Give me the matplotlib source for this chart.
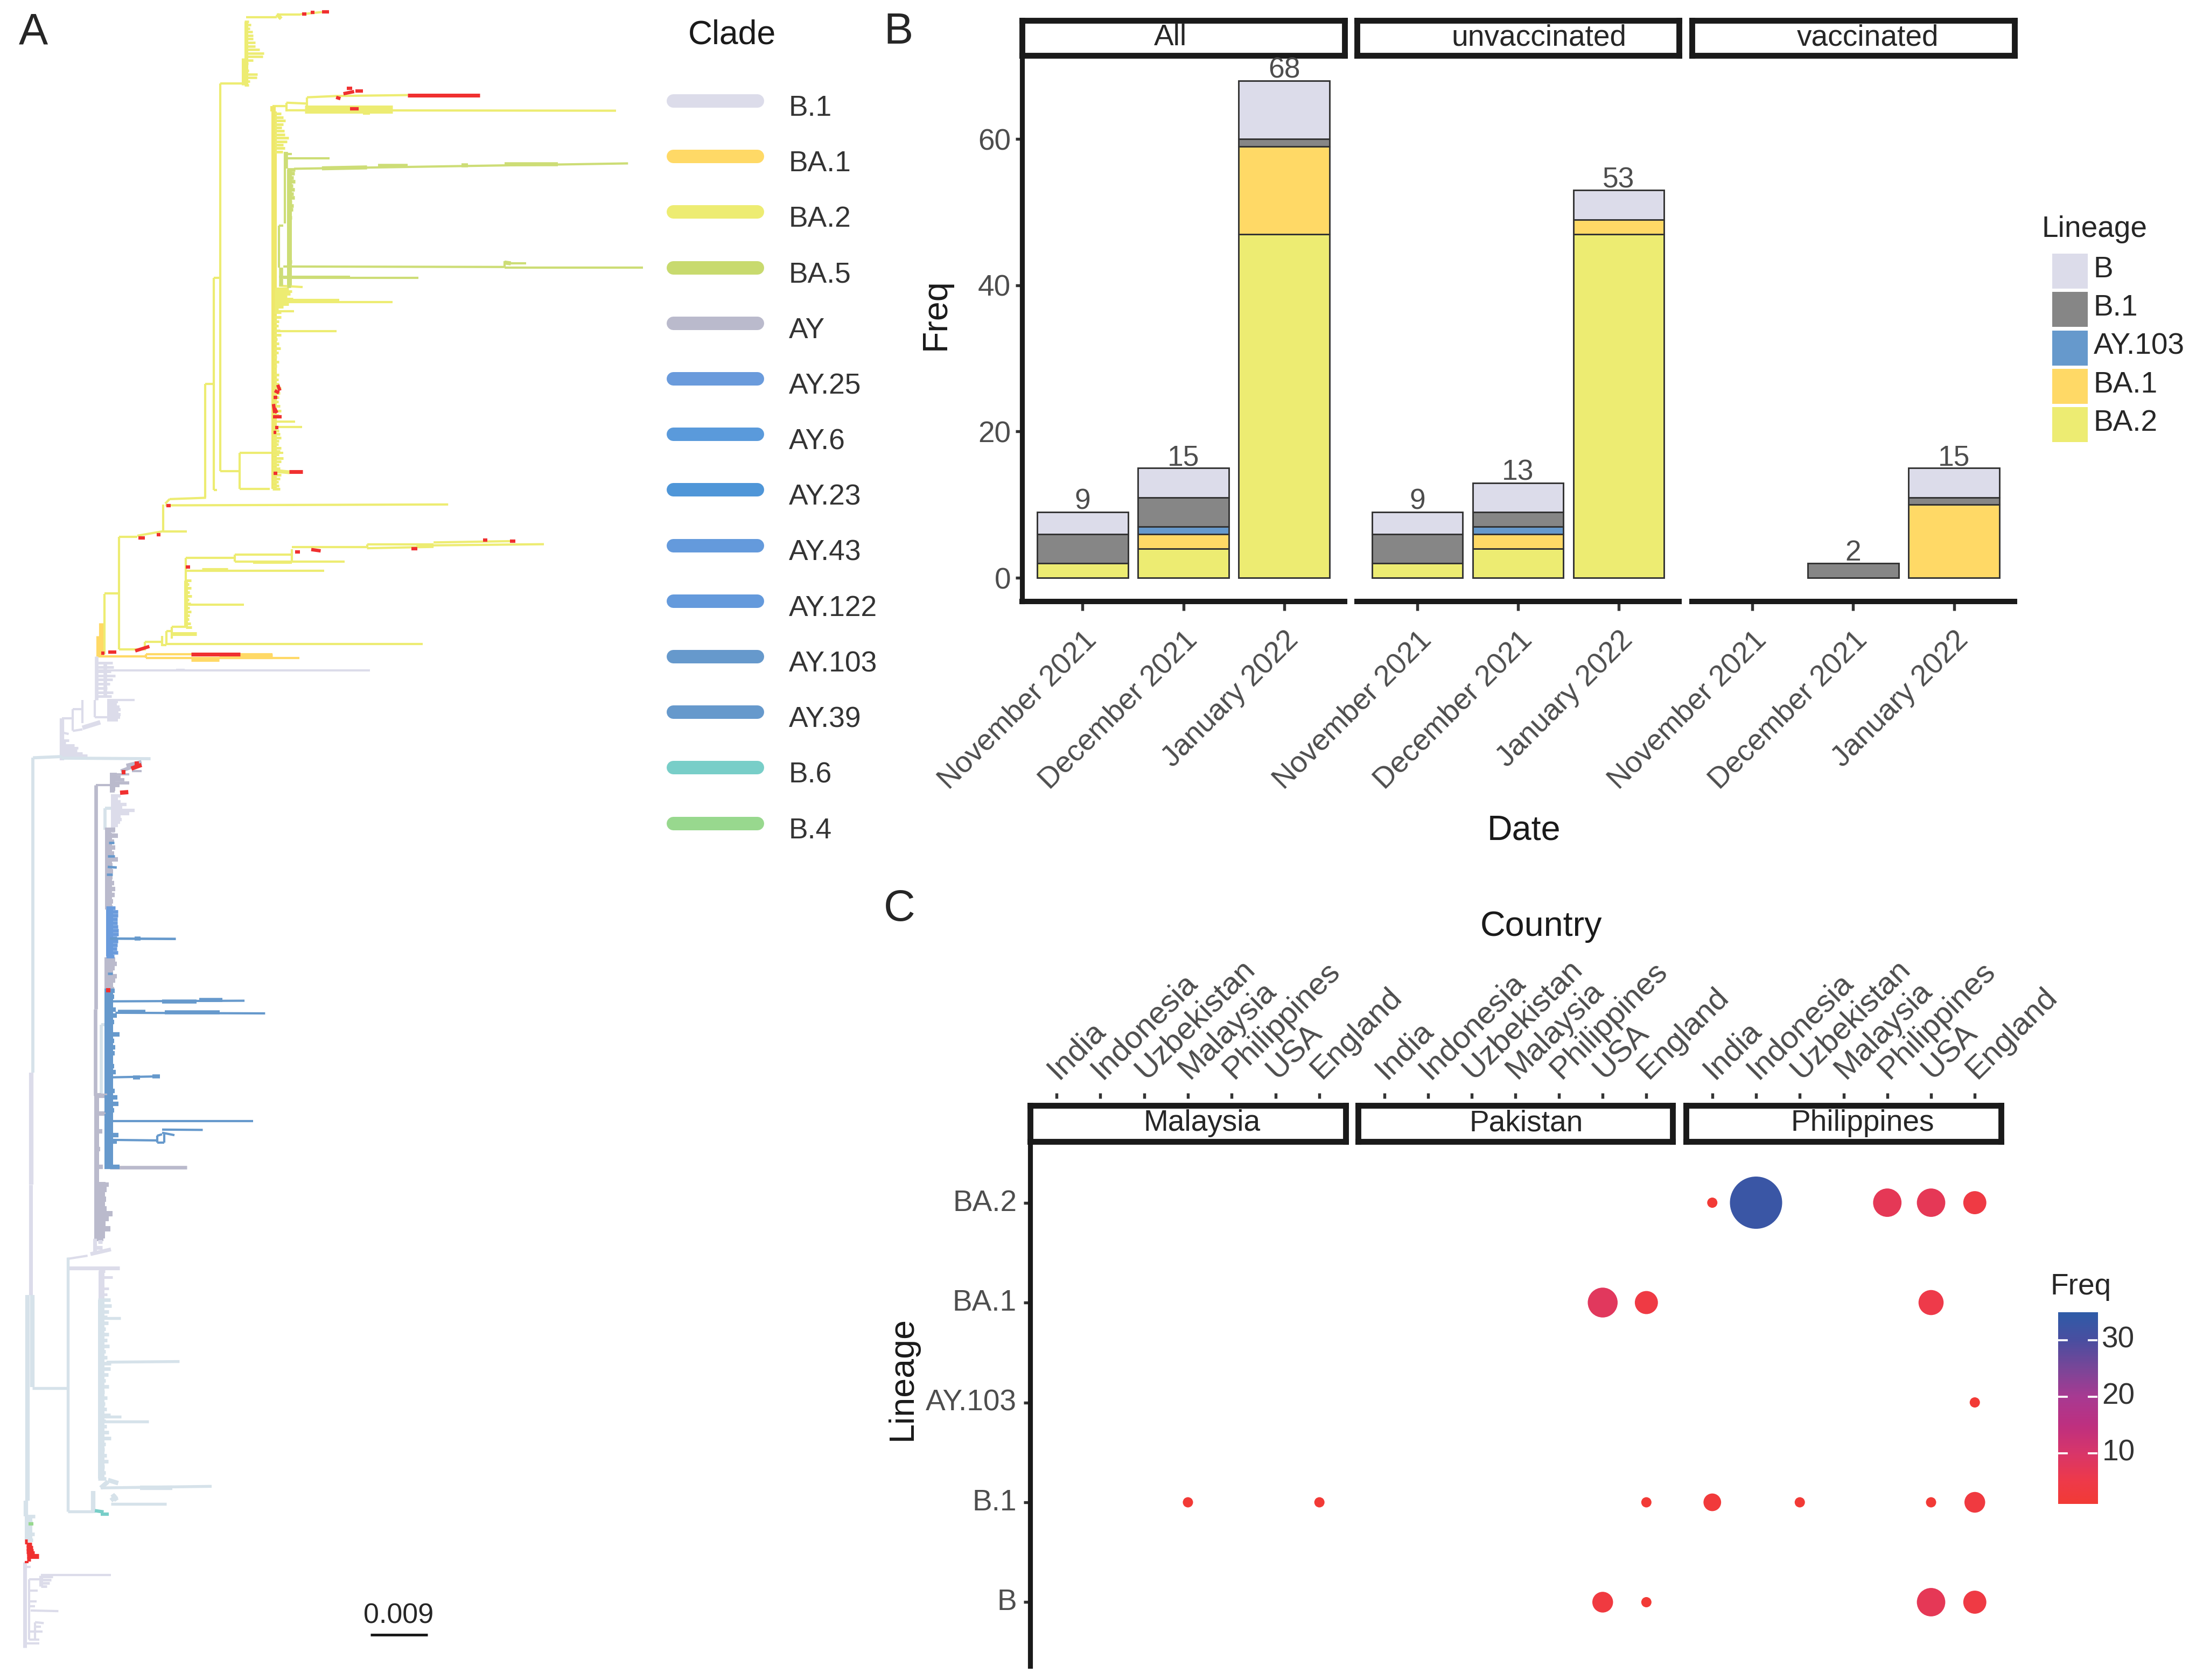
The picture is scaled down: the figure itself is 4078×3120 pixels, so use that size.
import matplotlib
matplotlib.use('Agg')
import matplotlib.pyplot as plt
from matplotlib.collections import LineCollection
from matplotlib.colors import LinearSegmentedColormap
from matplotlib.patches import Rectangle
from matplotlib.transforms import ScaledTranslation
import numpy as np

plt.rcParams['font.family'] = ['Liberation Sans', 'DejaVu Sans']

W, H = 4079, 3120
DPI = 300

# ---- panel B data
months = ['November 2021', 'December 2021', 'January 2022']
status = ['All', 'unvaccinated', 'vaccinated']
lineages_b = ['BA.2', 'BA.1', 'AY.103', 'B.1', 'B']
counts = {
    'All': {'BA.2': [2, 4, 47], 'BA.1': [0, 2, 12], 'AY.103': [0, 1, 0], 'B.1': [4, 4, 1], 'B': [3, 4, 8]},
    'unvaccinated': {'BA.2': [2, 4, 47], 'BA.1': [0, 2, 2], 'AY.103': [0, 1, 0], 'B.1': [4, 2, 0], 'B': [3, 4, 4]},
    'vaccinated': {'BA.2': [0, 0, 0], 'BA.1': [0, 0, 10], 'AY.103': [0, 0, 0], 'B.1': [0, 2, 1], 'B': [0, 0, 4]},
}
lineage_colors = {'B': '#DCDCEA', 'B.1': '#868686', 'AY.103': '#6699CC', 'BA.1': '#FFD966', 'BA.2': '#EDEC72'}

# ---- panel C data
countries = ['India', 'Indonesia', 'Uzbekistan', 'Malaysia', 'Philippines', 'USA', 'England']
regions = ['Malaysia', 'Pakistan', 'Philippines']
lineages_c = ['B', 'B.1', 'AY.103', 'BA.1', 'BA.2']
dot_region = ['Philippines'] * 5 + ['Pakistan'] * 2 + ['Philippines'] * 2 + ['Malaysia'] * 2 + ['Pakistan'] + \
             ['Philippines'] * 4 + ['Pakistan'] * 2 + ['Philippines'] * 2
dot_lineage = ['BA.2'] * 5 + ['BA.1'] * 3 + ['AY.103'] + ['B.1'] * 7 + ['B'] * 4
dot_country = ['India', 'Indonesia', 'Philippines', 'USA', 'England',
               'USA', 'England', 'USA',
               'England',
               'Malaysia', 'England', 'England', 'India', 'Uzbekistan', 'USA', 'England',
               'USA', 'England', 'USA', 'England']
dot_freq = [1, 33, 7, 7, 4,
            8, 4, 5,
            1,
            1, 1, 1, 2, 1, 1, 3,
            3, 1, 7, 4]
freq_ticks = [10, 20, 30]

# ---- panel A legend
clades = ['B.1', 'BA.1', 'BA.2', 'BA.5', 'AY', 'AY.25', 'AY.6', 'AY.23', 'AY.43', 'AY.122', 'AY.103', 'AY.39', 'B.6', 'B.4']
clade_colors = ['#DCDCEA', '#FFD966', '#EDEC72', '#C8DA6E', '#BABACC', '#6A9BDC', '#5A9ADB', '#4F96D8',
                '#649ADC', '#649ADC', '#6699CC', '#6699CC', '#78CEC8', '#98D88E']
LIGHT = '#D6E2EA'
RED = '#F03030'

# ---- tree, branches, one list per clade and part of the tree
ba1_top = [(228, 1470, 340, 1470), (340, 1466, 635, 1466), (340, 1474, 697, 1474), (340, 1466, 340, 1474)]
ba1_thick = [(445, 1476, 510, 1476), (510, 1470, 635, 1470), (236, 1395, 236, 1470), (229, 1425, 229, 1470)]
ba2_top = [(243, 1330, 243, 1465), (243, 1329, 277, 1329), (277, 1202, 277, 1455), (277, 1202, 320, 1202),
           (277, 1455, 340, 1455), (337, 1438, 337, 1450), (337, 1438, 378, 1438), (378, 1425, 378, 1447),
           (378, 1445, 388, 1445), (388, 1414, 388, 1445), (388, 1442, 985, 1442), (400, 1404, 400, 1430),
           (400, 1404, 433, 1404), (388, 1414, 400, 1414), (433, 1250, 433, 1405),
           (433, 1250, 547, 1250), (433, 1278, 755, 1278), (433, 1354, 568, 1354),
           (547, 1242, 547, 1258), (547, 1242, 680, 1242), (547, 1258, 680, 1258), (590, 1261, 680, 1261),
           (680, 1230, 680, 1260), (680, 1258, 803, 1258), (680, 1225, 855, 1225), (855, 1220, 855, 1228),
           (855, 1220, 1010, 1220), (855, 1228, 1010, 1225), (970, 1222, 1267, 1219), (1010, 1215, 1200, 1212),
           (320, 1200, 380, 1190), (380, 1130, 380, 1190), (380, 1190, 435, 1190), (385, 1132, 1044, 1130),
           (385, 1128, 395, 1118), (395, 1118, 480, 1115), (478, 860, 478, 1115), (478, 860, 498, 860),
           (498, 622, 498, 1098), (498, 622, 513, 622), (498, 1098, 505, 1098), (513, 187, 513, 1055),
           (513, 187, 573, 187), (513, 1055, 558, 1055), (558, 1014, 558, 1095), (558, 1014, 632, 1014),
           (558, 1095, 628, 1095), (573, 38, 645, 38), (645, 32, 700, 32), (700, 32, 750, 27),
           (635, 238, 667, 238), (667, 230, 667, 250), (667, 230, 715, 232), (715, 218, 715, 240),
           (715, 218, 785, 215), (785, 215, 950, 213), (667, 247, 1435, 248),
           (845, 254, 862, 254), (650, 640, 705, 643), (640, 677, 915, 677), (650, 672, 790, 672), (640, 697, 685, 697),
           (640, 742, 784, 742), (640, 945, 687, 945), (640, 957, 704, 957), (635, 1014, 660, 1014)]
ba2_thick = [(400, 1420, 458, 1420), (470, 1276, 530, 1276), (710, 240, 915, 240), (710, 250, 915, 250), (642, 1055, 675, 1058),
             (645, 32, 655, 42), (573, 48, 573, 190), (567, 130, 567, 190), (433, 1300, 433, 1405)]
ba2_stem = [(639, 250, 639, 1095), (636, 238, 636, 250)]
ba2_comb_tips = [640, 672, 680, 676, 668, 682, 680, 672, 660, 648, 655]
ba2_top_tips = [580, 585, 582, 588, 590, 590, 594, 595, 605, 615, 612, 590, 578, 576, 580, 600, 598, 582, 580]
ba2_mid_tips = [655, 660, 665, 660, 656, 662, 664, 672, 668, 660, 664, 658]
ba2_low_tips = [650, 655, 650, 648, 652, 655, 646, 650, 654, 648, 645, 650, 645, 642, 650, 648, 650, 655, 652, 650, 648, 652, 655, 650]
ba2_base_tips = [650, 652, 655, 650, 648, 655, 652, 650, 660, 655, 650, 652, 650, 655, 652, 648, 650, 652]
ba2_sub_tips = [445, 440, 445, 442, 446, 440, 444, 441, 445, 442, 440, 444, 446]
ba5_top = [(663, 340, 663, 500), (663, 345, 680, 345), (663, 355, 768, 355), (685, 378, 1463, 366),
           (650, 505, 650, 600), (650, 505, 660, 505), (660, 597, 1175, 598), (1175, 590, 1225, 590),
           (1175, 600, 1498, 600), (1175, 585, 1175, 600), (660, 622, 975, 622), (650, 620, 815, 620)]
ba5_thick = [(750, 377, 855, 375), (880, 372, 950, 372), (1075, 370, 1090, 370), (1175, 368, 1300, 368), (666, 340, 666, 378),
             (1175, 588, 1190, 590), (655, 600, 655, 640)]
ba5_tips = [688, 686, 684, 688, 682, 686, 684, 686, 680, 684, 682, 678, 680, 676, 678, 676, 674, 676, 672, 678, 676, 672, 675, 680, 670, 676, 672, 670, 674, 678]
red_top = [(704, 31, 714, 31), (724, 28, 732, 28), (750, 26, 767, 26), (808, 198, 820, 198),
           (800, 210, 825, 205), (783, 218, 793, 221), (828, 204, 845, 204), (815, 244, 835, 244),
           (647, 862, 652, 875), (640, 875, 650, 880), (637, 890, 646, 890), (637, 905, 640, 925), (640, 915, 645, 925),
           (636, 933, 656, 933), (641, 958, 648, 958), (637, 968, 644, 968), (637, 1060, 646, 1060),
           (388, 1132, 398, 1132), (322, 1205, 337, 1205), (365, 1198, 374, 1198), (687, 1236, 699, 1236),
           (725, 1231, 747, 1234), (958, 1229, 972, 1229), (1125, 1210, 1135, 1210), (1188, 1212, 1201, 1212),
           (433, 1270, 443, 1270), (252, 1461, 271, 1461), (236, 1463, 243, 1463),
           (315, 1458, 348, 1448)]
red_long = [(950, 214, 1118, 214), (673, 1056, 705, 1056), (445, 1466, 560, 1466)]
b1_top = [(225, 1502, 862, 1502), (410, 1500, 430, 1500)]
b1_top_thick = [(225, 1470, 225, 1568), (245, 1485, 245, 1560)]
b1_top_tips = [262, 265, 258, 268, 262, 256, 250, 264, 260]

b1_mid = [(300, 0, 300, 75), (345, 0, 345, 55), (345, 55, 390, 55), (265, 30, 300, 30), (265, 30, 265, 100),
          (265, 100, 300, 95), (225, 60, 265, 60), (225, 105, 250, 110), (390, 0, 490, 0)]
b1_mid_thick = [(300, 90, 365, 72), (225, 60, 225, 195), (113, 1205, 113, 1568)]
b1_mid_tips = [430, 425, 435, 440, 432, 440, 438, 430]
b1_root_tips = [250, 240, 270, 285, 280, 300, 318]
light_mid = [(120, 187, 225, 183), (225, 188, 548, 190), (368, 1050, 368, 1275), (368, 1050, 380, 1050), (383, 350, 405, 350), (383, 350, 383, 420), (120, 187, 120, 1205)]
ay_mid = [(348, 275, 400, 275), (400, 240, 470, 240), (480, 230, 515, 230), (355, 1275, 368, 1275)]
ay_mid_thick = [(440, 230, 515, 205), (348, 275, 348, 1000), (346, 1000, 346, 1280), (400, 1513, 680, 1513), (460, 212, 515, 200)]
ay_head_tips = [425, 440, 452, 470, 435, 420, 418]
b_light_tips = [440, 430, 440, 460, 445, 490, 470, 440, 442, 438, 430, 420, 418]
ay_upper_tips = [420, 430, 415, 420, 415, 430, 410, 412, 410, 415, 420, 418, 412, 410]
ay_lower_tips = [420, 425, 418, 412, 425, 420, 412, 415]
ay_bottom_tips = [390, 385, 372, 365, 375, 395]
ay25_tips = [420, 430, 430, 428, 428, 430, 432, 432, 425, 430, 428, 425, 430, 415]
ay103_tips = [418, 415, 410, 422, 425, 415, 410, 435, 415, 420, 418, 410, 415, 422, 410, 412, 418, 428, 432, 415, 410, 405, 412, 432, 425, 410, 408, 412, 435]
ay103_long = [(410, 975, 890, 973), (420, 1012, 965, 1014), (400, 1221, 565, 1218), (400, 1362, 922, 1362), (385, 1423, 572, 1425),
              (572, 1410, 572, 1432), (572, 1410, 590, 1405), (590, 1390, 738, 1391), (590, 1400, 635, 1408),
              (572, 1432, 597, 1432), (597, 1405, 597, 1432)]
ay103_thick = [(590, 975, 715, 975), (725, 970, 810, 970), (430, 1008, 530, 1008), (600, 1010, 800, 1010), (485, 1221, 510, 1221), (555, 1217, 582, 1217)]
ay25_long = [(400, 772, 640, 773), (395, 462, 415, 462), (392, 505, 418, 505), (392, 540, 425, 542), (388, 565, 410, 565), (392, 885, 410, 885)]
ay25_thick = [(490, 771, 512, 771)]
red_mid = [(443, 233, 457, 233), (478, 222, 515, 210), (490, 205, 505, 205), (437, 300, 467, 298), (386, 939, 402, 939)]

ay_low_tips = [362, 366, 360, 364, 360, 366, 385, 372, 362, 378, 360, 355]
b_low = [(232, 235, 300, 225), (100, 1250, 140, 1250), (140, 1235, 380, 1235), (100, 1250, 100, 1440), (100, 1285, 130, 1285),
         (100, 1320, 125, 1320), (100, 1335, 120, 1335), (105, 1348, 200, 1350), (120, 1385, 150, 1388), (120, 1385, 120, 1440),
         (120, 1400, 140, 1400), (100, 1415, 145, 1415), (100, 1440, 135, 1440), (85, 1452, 135, 1452), (85, 1210, 105, 1210)]
b_low_thick = [(310, 220, 380, 205), (325, 170, 325, 215), (335, 180, 350, 180), (320, 200, 350, 200), (235, 265, 410, 265), (105, 0, 105, 350), (85, 1195, 85, 1465), (140, 1238, 140, 1272)]
b_low_tips = [180, 175, 170, 160]
light_low = [(232, 230, 232, 1035), (110, 645, 228, 645), (320, 1035, 232, 1035), (345, 960, 725, 955), (380, 1010, 570, 1010),
             (345, 423, 413, 423), (365, 562, 615, 560), (350, 735, 415, 735), (350, 750, 510, 750)]
light_thick = [(95, 350, 95, 1000), (110, 350, 110, 640), (88, 1000, 88, 1050), (320, 970, 320, 1040), (370, 935, 405, 945),
               (385, 980, 400, 1000), (480, 960, 590, 960), (345, 960, 370, 940), (380, 1000, 400, 985)]
light_comb_tips = [378, 382, 372, 368, 370, 362, 372, 368, 374, 362, 368, 380, 378, 370, 362, 372, 358, 368, 360, 365, 378, 362, 366, 372, 380, 362, 358, 366, 370, 358, 362, 364]
b_comb_tips = [360, 385, 355, 372, 368, 372]
light_base_tips = [120, 110, 105, 118, 112]
teal_low = [(325, 1032, 355, 1036), (345, 1043, 373, 1043)]
green_low = [(97, 1073, 115, 1073)]
red_low = [(85, 1130, 95, 1130), (90, 1140, 108, 1140), (90, 1150, 112, 1150), (90, 1160, 115, 1160), (92, 1168, 118, 1168),
           (92, 1176, 132, 1176), (92, 1184, 105, 1184)]
red_low_small = [(85, 1194, 97, 1194)]

# zoomed views the branches were read from: x scale, y scale, y offset
TOP = (1250 / 1568, 1300 / 1568, 0)
MID = (800 / 1568, 900 / 1568, 1300)
LOW = (850 / 1568, 920 / 1568, 2200)


def px_axes(x0, y0, x1, y1):
    return fig.add_axes([x0 / W, 1 - y1 / H, (x1 - x0) / W, (y1 - y0) / H])


def branches(segs, view, color, lw=1.0):
    sx, sy, oy = view
    lines = [[(a * sx, b * sy + oy), (c * sx, d * sy + oy)] for a, b, c, d in segs]
    tree.add_collection(LineCollection(lines, colors=color, linewidths=lw, capstyle='butt'))


def comb(x0, y0, y1, tips, view, color, lw=1.0, core=None):
    sx, sy, oy = view
    ys = np.linspace(y0, y1, len(tips))
    branches([(x0, y, t, y) for y, t in zip(ys, tips)], view, color, lw)
    if core is not None:
        tree.add_patch(Rectangle((x0 * sx, y0 * sy + oy), (core - x0) * sx, (y1 - y0) * sy, facecolor=color, edgecolor='none'))


def draw_strip(x0, y0, x1, y1, label, label_x):
    ax = px_axes(x0, y0, x1, y1)
    ax.set_xticks([])
    ax.set_yticks([])
    for s in ax.spines.values():
        s.set_linewidth(2.6)
        s.set_color('#1A1A1A')
    ax.text(label_x, 0.5, label, transform=ax.transAxes, ha='center', va='center', fontsize=13.2, color='#262626')


fig = plt.figure(figsize=(W / DPI, H / DPI), dpi=DPI, facecolor='white')

# ---- panel A
tree = fig.add_axes([0, 0, 1, 1], zorder=0)
tree.set_xlim(0, W)
tree.set_ylim(H, 0)
tree.axis('off')

YEL = '#EDEC72'
GRN = '#CDDD76'
branches(ba1_top, TOP, '#FFD966')
branches(ba1_thick, TOP, '#FFD966', 2.2)
branches(ba2_top, TOP, YEL)
branches(ba2_thick, TOP, YEL, 1.7)
branches(ba2_stem, TOP, '#EFE76A', 2.4)
comb(433, 1300, 1405, ba2_sub_tips, TOP, YEL, 1.2)
comb(570, 48, 190, ba2_top_tips, TOP, YEL, 1.1)
comb(640, 255, 340, ba2_mid_tips, TOP, YEL, 1.2)
comb(638, 700, 930, ba2_low_tips, TOP, YEL, 1.2)
comb(635, 965, 1095, ba2_base_tips, TOP, YEL, 1.2)
comb(640, 640, 700, ba2_comb_tips, TOP, YEL, 1.2)
branches(ba5_top, TOP, GRN)
branches(ba5_thick, TOP, GRN, 1.8)
comb(668, 380, 640, ba5_tips, TOP, GRN, 1.6, core=680)
branches(red_top, TOP, RED, 1.5)
branches(red_long, TOP, RED, 1.7)
branches(b1_top, TOP, '#DCDCEA')
branches(b1_top_thick, TOP, '#DCDCEA', 1.6)
comb(225, 1485, 1560, b1_top_tips, TOP, '#DCDCEA', 1.2)

branches(b1_mid, MID, '#DCDCEA')
branches(b1_mid_thick, MID, '#DCDCEA', 2.0)
comb(390, 5, 65, b1_mid_tips, MID, '#DCDCEA', 1.4, core=405)
comb(225, 130, 180, b1_root_tips, MID, '#DCDCEA', 1.2)
branches(light_mid, MID, LIGHT, 1.4)
comb(403, 310, 425, b_light_tips, MID, '#DCDCEA', 1.5, core=418)
branches(ay_mid, MID, '#BABACC')
branches(ay_mid_thick, MID, '#BABACC', 1.6)
comb(400, 240, 295, ay_head_tips, MID, '#BABACC', 1.4, core=420)
comb(383, 420, 670, ay_upper_tips, MID, '#BABACC', 2.0, core=408)
comb(380, 840, 935, ay_lower_tips, MID, '#BABACC', 2.0, core=410)
comb(343, 1280, 1568, ay_bottom_tips, MID, '#BABACC', 2.0, core=360)
comb(387, 672, 830, ay25_tips, MID, '#6A9BDC', 1.6, core=412)
comb(381, 940, 1510, ay103_tips, MID, '#6699CC', 2.0, core=412)
branches(ay103_long, MID, '#6699CC', 1.0)
branches(ay103_thick, MID, '#6699CC', 1.8)
branches(ay25_long, MID, '#6699CC', 1.1)
branches(ay25_thick, MID, '#6699CC', 1.8)
branches(red_mid, MID, RED, 1.9)

comb(322, 0, 170, ay_low_tips, LOW, '#BABACC', 2.4, core=360)
branches(b_low, LOW, '#DCDCEA')
branches(b_low_thick, LOW, '#DCDCEA', 1.7)
comb(140, 1240, 1272, b_low_tips, LOW, '#DCDCEA', 1.2)
comb(338, 275, 365, b_comb_tips, LOW, '#DCDCEA', 1.2, core=358)
branches(light_low, LOW, LIGHT, 1.3)
branches(light_thick, LOW, LIGHT, 2.0)
comb(335, 365, 930, light_comb_tips, LOW, LIGHT, 1.6, core=358)
comb(84, 1050, 1125, light_base_tips, LOW, LIGHT, 1.6, core=110)
branches(teal_low, LOW, '#78CEC8', 1.5)
branches(green_low, LOW, '#98D88E', 1.5)
branches(red_low, LOW, RED, 2.2)
branches(red_low_small, LOW, RED, 1.0)

# scale bar and letters
tree.plot([688, 794], [3036, 3036], color='#1A1A1A', lw=1.2, solid_capstyle='butt')
tree.text(740, 3001, '0.009', ha='center', va='center', fontsize=12.5, color='#262626')
for letter, x, y in [('A', 62, 60), ('B', 1668, 60), ('C', 1670, 1689)]:
    tree.text(x, y, letter, ha='center', va='center', fontsize=19.5, color='#262626')

# clade legend
tree.text(1360, 65, 'Clade', ha='center', va='center', fontsize=15, color='#1A1A1A')
for i, (name, col) in enumerate(zip(clades, clade_colors)):
    y = 187 + i * 103.2
    tree.plot([1250, 1406], [y, y], color=col, lw=6, solid_capstyle='round')
    tree.text(1465, y + 14, name, ha='left', va='center', fontsize=12.8, color='#333333')

# ---- panel B
bar_panels = [(1898, 2497), (2520, 3118), (3142, 3741)]
for k, (name, (x0, x1)) in enumerate(zip(status, bar_panels)):
    ax = px_axes(x0, 105, x1, 1117)
    ax.set_zorder(3)
    bottom = np.zeros(3)
    pos = np.arange(1, 4)
    for lin in lineages_b:
        vals = np.array(counts[name][lin])
        keep = vals > 0
        ax.bar(pos[keep], vals[keep], 0.9, bottom=bottom[keep], color=lineage_colors[lin], edgecolor='#333333', linewidth=0.7)
        bottom += vals
    for p, total in zip(pos, bottom):
        if total > 0:
            ax.text(p, total - 0.45, '%d' % total, ha='center', va='bottom', fontsize=12.8, color='#4D4D4D', zorder=5)
    ax.set_xlim(0.4, 3.6)
    ax.set_ylim(-3.24, 71.3)
    ax.set_xticks(pos)
    ax.set_xticklabels(months, rotation=45, ha='right', rotation_mode='anchor', fontsize=13.2, color='#4D4D4D')
    ax.tick_params(axis='x', length=4, width=1.3, color='#333333', pad=7)
    for s in ['top', 'right']:
        ax.spines[s].set_visible(False)
    ax.spines['bottom'].set_linewidth(2.4)
    ax.spines['bottom'].set_color('#1A1A1A')
    if k == 0:
        ax.set_yticks([0, 20, 40, 60])
        ax.tick_params(axis='y', length=3, width=1.3, color='#333333', labelsize=13.2, labelcolor='#4D4D4D', pad=2)
        ax.spines['left'].set_linewidth(2.2)
        ax.spines['left'].set_color('#1A1A1A')
    else:
        ax.set_yticks([])
        ax.spines['left'].set_visible(False)
    ax.patch.set_alpha(0)
    draw_strip(x0, 38, x1, 103, name, [0.46, 0.565, 0.545][k])

tree.text(1738, 584, 'Freq', rotation=90, ha='center', va='center', fontsize=15.5, color='#1A1A1A')
tree.text(2830, 1542, 'Date', ha='center', va='center', fontsize=15.5, color='#1A1A1A')

tree.text(3792, 426, 'Lineage', ha='left', va='center', fontsize=13.2, color='#262626')
for i, lin in enumerate(['B', 'B.1', 'AY.103', 'BA.1', 'BA.2']):
    y = 471 + i * 71.3
    tree.add_patch(Rectangle((3811, y), 66, 65, facecolor=lineage_colors[lin], edgecolor='none'))
    tree.text(3888, y + 30, lin, ha='left', va='center', fontsize=13.2, color='#262626')

# ---- panel C
cmap = LinearSegmentedColormap.from_list('freq', [(0, '#F23A36'), (0.12, '#EE3A4A'), (0.265, '#D8366A'), (0.41, '#BE3080'),
                                                  (0.56, '#A83A92'), (0.706, '#7A4698'), (0.853, '#4A4EA0'), (1, '#2F5CA8')])
dot_panels = [(1913, 2499), (2522, 3106), (3131, 3716)]
for k, (name, (x0, x1)) in enumerate(zip(regions, dot_panels)):
    ax = px_axes(x0, 2123, x1, 3094)
    idx = [i for i, r in enumerate(dot_region) if r == name]
    xs = [countries.index(dot_country[i]) + 1 for i in idx]
    ys = [lineages_c.index(dot_lineage[i]) + 1 for i in idx]
    fr = np.array([dot_freq[i] for i in idx])
    dia = (19 + 78 * np.sqrt((fr - 1) / 32)) * 72 / DPI
    ax.scatter(xs, ys, s=dia ** 2, c=fr, cmap=cmap, vmin=1, vmax=35, linewidths=0, clip_on=False)
    ax.set_xlim(0.4, 7.6)
    ax.set_ylim(0.361, 5.596)
    ax.set_xticks([])
    for s in ['top', 'right', 'bottom']:
        ax.spines[s].set_visible(False)
    if k == 0:
        ax.set_yticks(range(1, 6))
        ax.set_yticklabels(lineages_c, fontsize=13.2, color='#4D4D4D')
        ax.tick_params(axis='y', length=3, width=1.3, color='#333333', pad=3)
        ax.spines['left'].set_linewidth(2.2)
        ax.spines['left'].set_color('#1A1A1A')
        for lab in ax.get_yticklabels():
            lab.set_transform(lab.get_transform() + ScaledTranslation(0, 1.2 / 72, fig.dpi_scale_trans))
    else:
        ax.set_yticks([])
        ax.spines['left'].set_visible(False)
    ax.patch.set_alpha(0)
    draw_strip(x0, 2053, x1, 2120, name, [0.545, 0.535, 0.56][k])
    # ticks and labels sit above the strip
    top = px_axes(x0, 2040, x1, 2053)
    top.patch.set_alpha(0)
    top.set_xlim(0.4, 7.6)
    top.set_yticks([])
    for s in top.spines.values():
        s.set_visible(False)
    top.xaxis.tick_top()
    top.set_xticks(range(1, 8))
    top.set_xticklabels(countries, rotation=45, ha='left', rotation_mode='anchor', fontsize=14, color='#4D4D4D')
    top.tick_params(axis='x', length=2.5, width=1.3, color='#333333', pad=1.5)
    for lab in top.get_xticklabels():
        lab.set_transform(lab.get_transform() + ScaledTranslation(2.8 / 72, 2.2 / 72, fig.dpi_scale_trans))

tree.text(2862, 1721, 'Country', ha='center', va='center', fontsize=15.5, color='#1A1A1A')
tree.text(1676, 2560, 'Lineage', rotation=90, ha='center', va='center', fontsize=15.5, color='#1A1A1A')

# colour bar
cax = px_axes(3822, 2437, 3895, 2793)
gradient = np.linspace(1, 35, 256).reshape(-1, 1)
cax.imshow(gradient, origin='lower', aspect='auto', cmap=cmap, extent=[0, 1, 1, 35], vmin=1, vmax=35)
cax.set_xticks([])
cax.yaxis.tick_right()
cax.set_yticks(freq_ticks)
cax.tick_params(axis='y', length=0, labelsize=13.2, labelcolor='#333333', pad=2)
for lab in cax.get_yticklabels():
    lab.set_transform(lab.get_transform() + ScaledTranslation(0, 1.6 / 72, fig.dpi_scale_trans))
for s in cax.spines.values():
    s.set_visible(False)
for t in freq_ticks:
    cax.plot([0, 0.22], [t, t], color='white', lw=0.9)
    cax.plot([0.78, 1], [t, t], color='white', lw=0.9)
cax.set_xlim(0, 1)
cax.set_ylim(1, 35)
tree.text(3808, 2390, 'Freq', ha='left', va='center', fontsize=13.2, color='#262626')

fig.savefig('out.png', dpi=DPI, facecolor='white')
